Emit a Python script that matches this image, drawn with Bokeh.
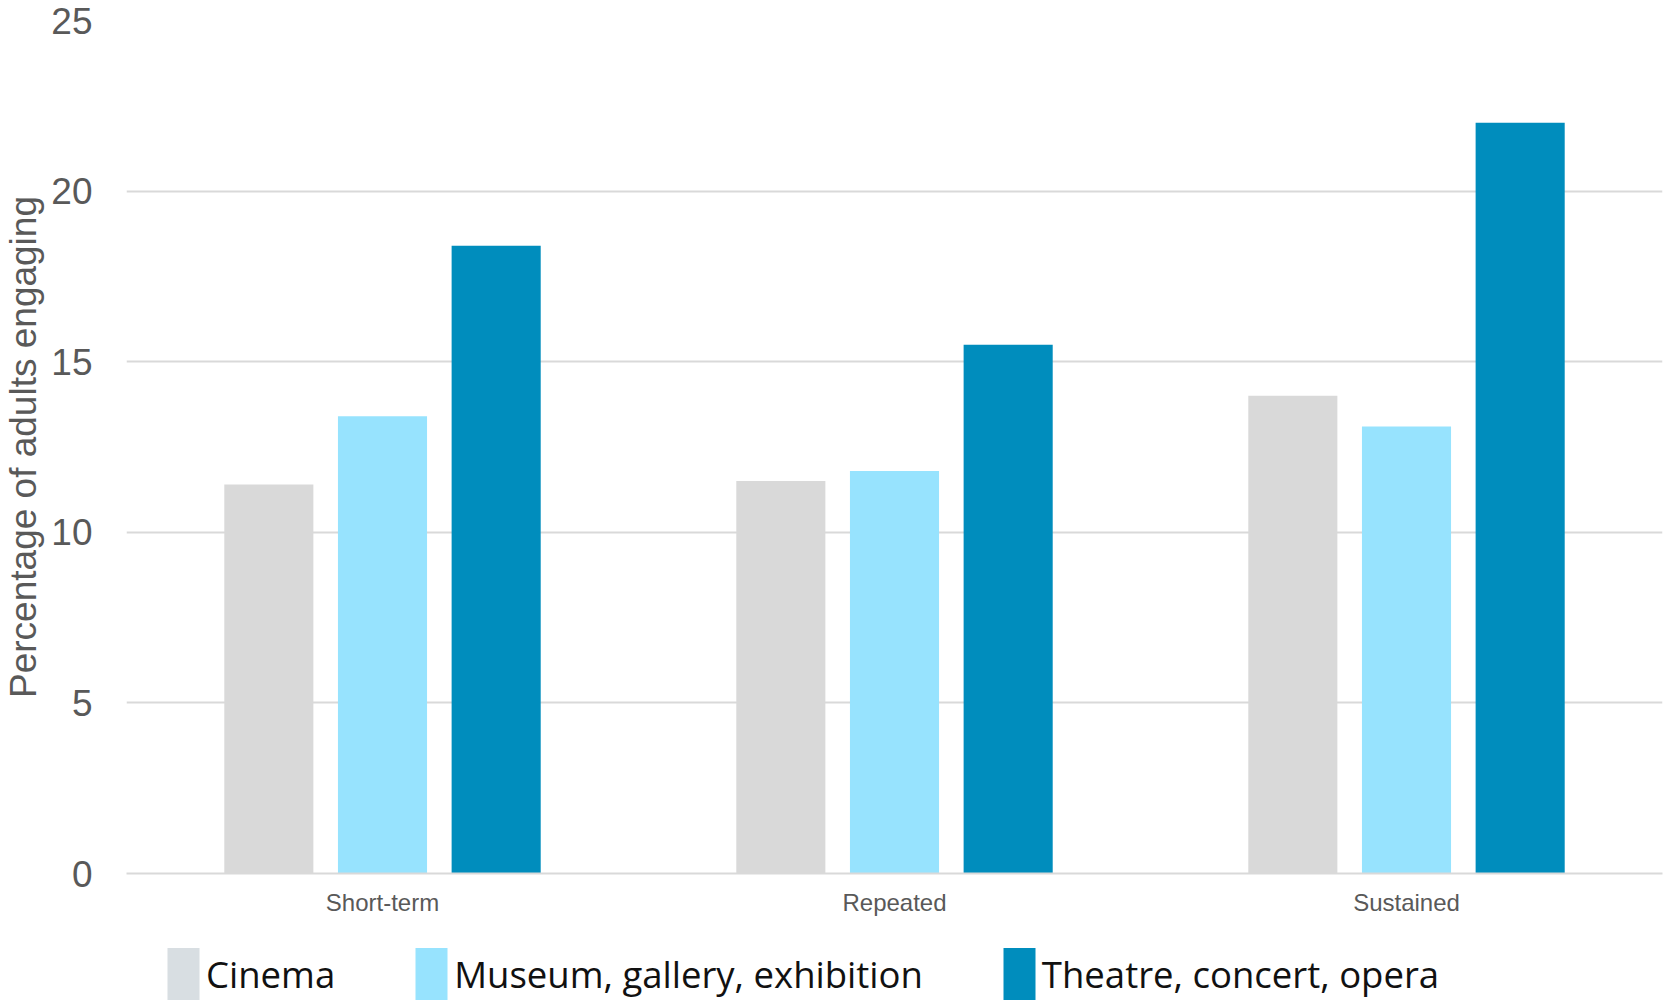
from bokeh.plotting import figure
from bokeh.models import ColumnDataSource, Legend, LegendItem, FactorRange, Range1d
from bokeh.layouts import column
from bokeh.transform import dodge
from bokeh.embed import file_html
from bokeh.resources import INLINE

categories = ["Short-term", "Repeated", "Sustained"]
cinema = [11.4, 11.5, 14.0]
museum = [13.4, 11.8, 13.1]
theatre = [18.4, 15.5, 22.0]
series_names = ["Cinema", "Museum, gallery, exhibition", "Theatre, concert, opera"]
series_keys = ["cinema", "museum", "theatre"]
series_colors = ["#d9d9d9", "#97e3fe", "#008dbd"]
legend_colors = ["#d8dee2", "#97e3fe", "#008dbd"]
y_ticks = [0, 5, 10, 15, 20, 25]

source = ColumnDataSource(dict(cat=categories, cinema=cinema, museum=museum, theatre=theatre))

p = figure(x_range=FactorRange(*categories), y_range=Range1d(0, 25),
           width=1665, height=930, output_backend="svg", toolbar_location=None,
           min_border_left=126, min_border_right=3, min_border_top=20, min_border_bottom=57)
p.outline_line_color = None
p.background_fill_color = "white"
p.border_fill_color = "white"

for key, off, col in zip(series_keys, [-0.222, 0.0, 0.222], series_colors):
    p.vbar(x=dodge("cat", off, range=p.x_range), top=key, width=0.174, bottom=0,
           source=source, fill_color=col, line_color=None)

p.xgrid.grid_line_color = None
p.ygrid.grid_line_color = "#d9d9d9"
p.ygrid.grid_line_width = 2

p.yaxis.ticker = y_ticks
p.yaxis.axis_line_color = None
p.yaxis.major_tick_line_color = None
p.yaxis.major_tick_out = 0
p.yaxis.major_tick_in = 0
p.yaxis.minor_tick_line_color = None
p.yaxis.major_label_text_font = "Liberation Sans"
p.yaxis.major_label_text_font_size = "37px"
p.yaxis.major_label_text_color = "#595959"
p.yaxis.major_label_standoff = 34
p.yaxis.axis_label = "Percentage of adults engaging"
p.yaxis.axis_label_text_font = "Liberation Sans"
p.yaxis.axis_label_text_font_size = "37px"
p.yaxis.axis_label_text_font_style = "normal"
p.yaxis.axis_label_text_color = "#595959"
p.yaxis.axis_label_standoff = 4

p.xaxis.axis_line_color = "#d9d9d9"
p.xaxis.axis_line_width = 2
p.xaxis.major_tick_line_color = None
p.xaxis.major_tick_out = 0
p.xaxis.major_tick_in = 0
p.xaxis.minor_tick_line_color = None
p.xaxis.major_label_text_font = "Liberation Sans"
p.xaxis.major_label_text_font_size = "24px"
p.xaxis.major_label_text_color = "#595959"
p.xaxis.major_label_standoff = 15

# legend strip below the chart (hidden proxy renderers carry the swatch colours)
p2 = figure(width=1665, height=72, x_range=FactorRange(*categories), y_range=Range1d(0, 1),
            output_backend="svg", toolbar_location=None,
            min_border=0, min_border_left=0, min_border_right=0, min_border_top=0, min_border_bottom=0)
p2.axis.visible = False
p2.grid.grid_line_color = None
p2.outline_line_color = None
p2.background_fill_color = "white"
p2.border_fill_color = "white"
legend_renderers = [p2.vbar(x="cat", top=k, width=0.1, source=source, fill_color=c,
                            line_color=None, visible=False)
                    for k, c in zip(series_keys, legend_colors)]
items = [LegendItem(label=n, renderers=[r]) for n, r in zip(series_names, legend_renderers)]
legend = Legend(items=items, orientation="horizontal", location=(37, -4),
                glyph_width=40, glyph_height=65, label_standoff=3, spacing=76,
                padding=0, margin=0, border_line_color=None, background_fill_alpha=0,
                inactive_fill_alpha=0,
                label_text_font="Open Sans", label_text_font_size="36.5px",
                label_text_color="#111111")
p2.add_layout(legend, "center")

layout = column(p, p2, spacing=0)
open("out.html", "w").write(file_html(layout, INLINE))
